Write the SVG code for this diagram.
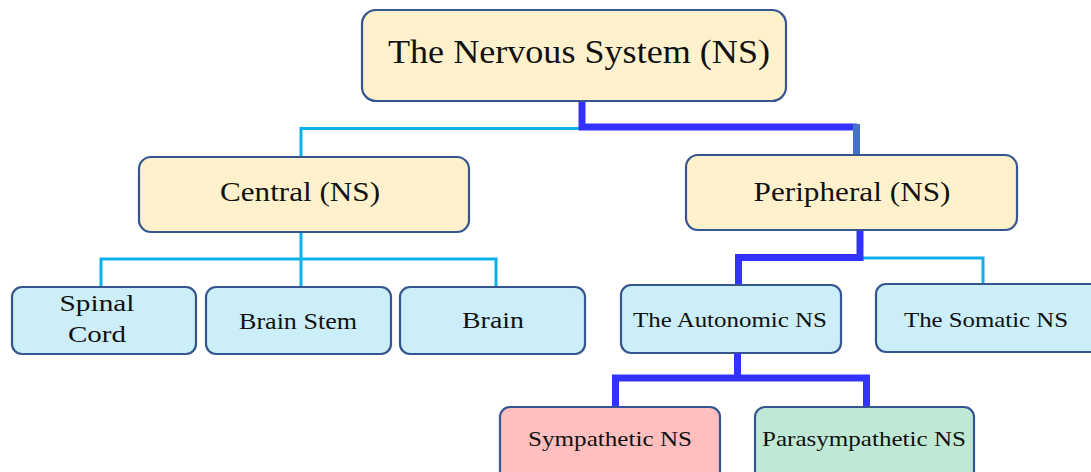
<svg xmlns="http://www.w3.org/2000/svg" width="1091" height="472" viewBox="0 0 1091 472">
<style>
.box{stroke:#34558f;stroke-width:2.2}
.y{fill:#fff1cc}
.b{fill:#cbeef9}
.p{fill:#ffbfbf}
.g{fill:#bfe9d4}
text{font-family:'Liberation Serif','Times New Roman',serif;fill:#111;text-anchor:middle}
.thin{fill:none;stroke:#0eb0ec;stroke-width:3;stroke-linejoin:miter}
.thick{fill:none;stroke:#3333ff;stroke-width:7;stroke-linejoin:miter}
</style>
<rect width="1091" height="472" fill="#fff"/>
<g id="connectors">
  <path class="thin" d="M581,128.5 H301 V157"/>
  <path class="thick" d="M582,101 V127 H857"/>
  <path fill="none" stroke="#4472c4" stroke-width="7" d="M856.5,124 V155"/>
  <path class="thin" d="M301,232 V259 M101,287 V259 H496 V287 M301,259 V287"/>
  <path class="thin" d="M860,258 H983 V285"/>
  <path class="thick" d="M860,230 V257.5 H738.5 V286"/>
  <path class="thick" d="M737.5,353 V378 H615.5 V407 M737.5,378 H866.5 V407"/>
</g>
<g id="root">
  <rect class="box y" x="362" y="10" width="424" height="91" rx="14"/>
  <text x="579" y="63" font-size="34" textLength="382" lengthAdjust="spacingAndGlyphs">The Nervous System (NS)</text>
</g>
<g id="central">
  <rect class="box y" x="139" y="157" width="330" height="75" rx="12"/>
  <text x="300" y="201" font-size="27" textLength="160" lengthAdjust="spacingAndGlyphs">Central (NS)</text>
</g>
<g id="peripheral">
  <rect class="box y" x="686" y="155" width="331" height="75" rx="12"/>
  <text x="852" y="201" font-size="27" textLength="197" lengthAdjust="spacingAndGlyphs">Peripheral (NS)</text>
</g>
<g id="spinal">
  <rect class="box b" x="12" y="287" width="184" height="67" rx="10"/>
  <text x="97" y="311" font-size="24" textLength="75" lengthAdjust="spacingAndGlyphs">Spinal</text>
  <text x="97" y="342" font-size="24" textLength="58" lengthAdjust="spacingAndGlyphs">Cord</text>
</g>
<g id="brainstem">
  <rect class="box b" x="206" y="287" width="185" height="67" rx="10"/>
  <text x="298" y="329" font-size="23" textLength="118" lengthAdjust="spacingAndGlyphs">Brain Stem</text>
</g>
<g id="brain">
  <rect class="box b" x="400" y="287" width="185" height="67" rx="10"/>
  <text x="493" y="328" font-size="23" textLength="62" lengthAdjust="spacingAndGlyphs">Brain</text>
</g>
<g id="autonomic">
  <rect class="box b" x="621" y="285" width="220" height="68" rx="10"/>
  <text x="730" y="327" font-size="22" textLength="194" lengthAdjust="spacingAndGlyphs">The Autonomic NS</text>
</g>
<g id="somatic">
  <rect class="box b" x="876" y="284" width="225" height="68" rx="10"/>
  <text x="986" y="327" font-size="22" textLength="164" lengthAdjust="spacingAndGlyphs">The Somatic NS</text>
</g>
<g id="sympathetic">
  <rect class="box p" x="500" y="407" width="220" height="75" rx="10"/>
  <text x="610" y="446" font-size="21" textLength="164" lengthAdjust="spacingAndGlyphs">Sympathetic NS</text>
</g>
<g id="parasympathetic">
  <rect class="box g" x="755" y="407" width="219" height="75" rx="10"/>
  <text x="864" y="446" font-size="21" textLength="204" lengthAdjust="spacingAndGlyphs">Parasympathetic NS</text>
</g>
</svg>
